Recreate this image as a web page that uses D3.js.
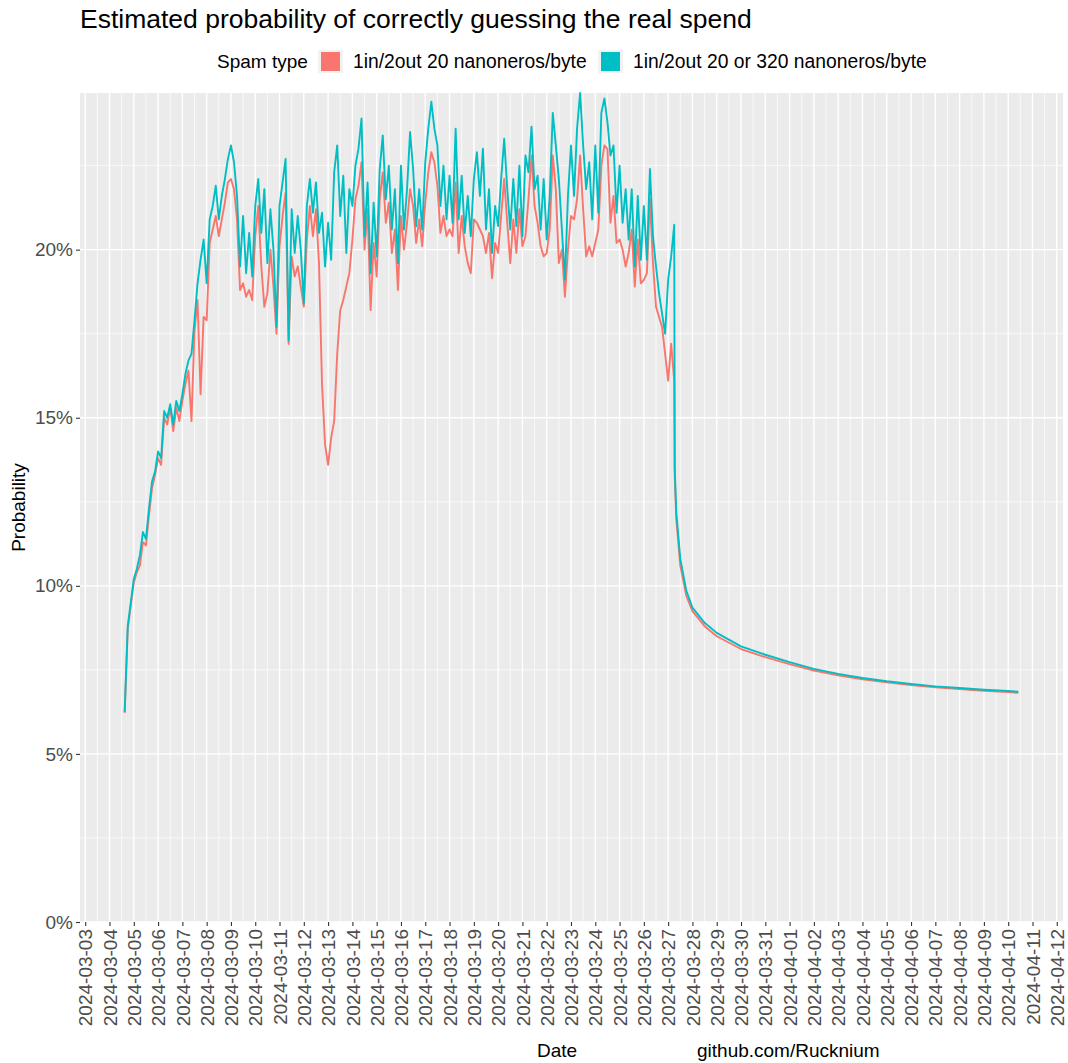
<!DOCTYPE html>
<html>
<head>
<meta charset="utf-8">
<script src="https://cdn.jsdelivr.net/npm/d3@7"></script>
<style>
  body { margin: 0; background: #ffffff; }
  text { font-family: "Liberation Sans", Arial, sans-serif; }
</style>
</head>
<body>
<svg id="chart" width="1068" height="1063"></svg>
<script>
// noisy part: one value every 3 hours from 2024-03-04 15:00 (UTC)
var startTime = "2024-03-04 15:00";
var stepHours = 3;

var tealNoisy = [
  6.25, 8.8, 9.5, 10.2, 10.5, 10.9, 11.6, 11.4,
  12.3, 13.1, 13.4, 14.0, 13.8, 15.2, 15.0, 15.4,
  14.8, 15.5, 15.2, 15.7, 16.3, 16.7, 16.9, 17.9,
  19.0, 19.7, 20.3, 19.0, 20.9, 21.3, 21.9, 20.9,
  21.6, 22.1, 22.7, 23.1, 22.6, 21.6, 19.5, 21.0,
  19.3, 20.5, 19.2, 21.3, 22.1, 20.5, 21.8, 19.6,
  21.2, 20.0, 17.7, 21.3, 22.0, 22.7, 17.3, 21.2,
  19.9, 21.0, 20.0, 18.4, 21.3, 22.1, 21.1, 22.0,
  20.5, 21.1, 19.5, 20.8, 19.7, 22.3, 23.1, 21.0,
  22.2, 19.9, 21.8, 21.3, 22.5, 23.0, 23.9, 20.4,
  22.0, 19.3, 21.4, 19.8, 22.4, 23.4, 21.5, 22.5,
  20.6, 21.8, 19.6, 22.5, 20.6, 21.8, 23.5, 22.4,
  20.7, 21.8, 20.6, 22.6, 23.6, 24.4, 23.6, 23.1,
  21.3, 22.5, 20.9, 22.2, 20.8, 23.6, 20.9, 22.2,
  20.5, 21.6, 20.4, 22.1, 22.9, 21.6, 23.0, 20.6,
  21.8, 19.9, 21.3, 20.7, 22.1, 23.3, 21.8, 20.6,
  22.1, 20.7, 22.5, 20.4, 22.8, 22.3, 23.66, 21.8,
  22.2, 20.6, 22.1, 20.3, 21.6, 24.07, 23.1, 22.1,
  20.6, 19.1, 21.6, 23.1, 21.6, 23.6, 24.66, 23.1,
  21.8, 22.6, 20.9, 23.1, 21.1, 24.07, 24.5, 23.8,
  22.8, 23.1, 21.1, 22.5, 20.8, 21.8, 20.3, 21.8,
  19.5, 21.6, 19.7, 21.3, 19.7, 22.4, 20.4, 19.5,
  18.7, 18.1, 17.5, 19.1, 19.8, 20.74
];

var redNoisy = [
  6.22, 8.7, 9.4, 10.1, 10.4, 10.6, 11.3, 11.2,
  12.1, 12.9, 13.3, 13.8, 13.6, 15.0, 14.8, 15.3,
  14.6, 15.3, 14.9, 15.5, 16.0, 16.4, 14.9, 17.6,
  18.5, 15.7, 18.0, 17.9, 20.2, 20.6, 21.0, 20.4,
  20.9, 21.4, 22.0, 22.1, 21.8, 20.9, 18.8, 19.0,
  18.6, 18.8, 18.5, 20.4, 21.3, 19.5, 18.3, 18.7,
  20.0, 18.9, 17.5, 20.1, 21.0, 21.7, 17.2, 19.8,
  19.2, 19.5, 18.9, 18.3, 20.3, 21.3, 20.4, 21.2,
  19.6, 16.0, 14.2, 13.6, 14.4, 14.9, 16.9, 18.2,
  18.5, 18.9, 19.3, 20.3, 21.5, 21.9, 22.6, 20.0,
  21.2, 18.2, 20.2, 19.2, 21.5, 22.3, 20.8, 21.4,
  19.9, 20.6, 18.8, 21.0, 20.0, 20.8, 21.8, 21.3,
  20.2, 20.9, 20.1, 21.4, 22.3, 22.9, 22.6, 21.9,
  20.5, 21.0, 20.4, 20.6, 20.4, 22.0, 19.9, 21.0,
  20.1, 19.6, 19.3, 20.9, 20.8, 20.6, 20.4, 19.9,
  20.5, 19.15, 20.2, 19.9, 21.0, 22.1, 20.8, 19.6,
  20.9, 19.9, 21.2, 20.1, 20.4, 21.5, 22.8, 21.3,
  20.8, 20.1, 19.8, 19.9, 20.6, 22.8, 21.8, 19.6,
  20.0, 18.6, 20.0, 21.0, 20.9, 21.5, 22.8, 21.2,
  19.8, 20.1, 19.8, 20.2, 20.6, 22.5, 23.1, 23.0,
  20.8, 21.6, 20.2, 20.3, 20.0, 19.5, 19.9, 20.6,
  18.9, 20.3, 19.0, 19.1, 19.3, 21.5, 19.6, 18.3,
  18.0, 17.7, 16.9, 16.1, 17.2, 16.1
];

// smooth part after the drop
var tailTimes = [
  "2024-03-27 06:30", "2024-03-27 08:00", "2024-03-27 12:00", "2024-03-27 18:00",
  "2024-03-28 00:00", "2024-03-28 12:00", "2024-03-29 00:00", "2024-03-30 00:00",
  "2024-03-31 00:00", "2024-04-01 00:00", "2024-04-02 00:00", "2024-04-03 00:00",
  "2024-04-04 00:00", "2024-04-05 00:00", "2024-04-06 00:00", "2024-04-07 00:00",
  "2024-04-08 00:00", "2024-04-09 00:00", "2024-04-10 00:00", "2024-04-10 10:00"
];
var tailTeal = [
  13.5, 12.2, 10.8, 9.85, 9.35, 8.9, 8.6, 8.2, 7.95, 7.73,
  7.53, 7.38, 7.26, 7.16, 7.08, 7.01, 6.96, 6.91, 6.87, 6.85
];
var tailRed = [
  13.3, 12.0, 10.6, 9.7, 9.25, 8.8, 8.5, 8.12, 7.88, 7.67,
  7.48, 7.34, 7.22, 7.13, 7.05, 6.98, 6.93, 6.88, 6.84, 6.82
];

var seriesNames = ["1in/2out 20 nanoneros/byte", "1in/2out 20 or 320 nanoneros/byte"];
var seriesColors = ["#F8766D", "#00BFC4"];
var yTicks = [0, 5, 10, 15, 20];
var yMinorTicks = [2.5, 7.5, 12.5, 17.5, 22.5];

var parseTime = d3.utcParse("%Y-%m-%d %H:%M");

function buildSeries(noisy, tail) {
  var start = parseTime(startTime);
  var pts = noisy.map(function (v, i) {
    return { date: d3.utcHour.offset(start, i * stepHours), value: v };
  });
  tail.forEach(function (v, i) {
    pts.push({ date: parseTime(tailTimes[i]), value: v });
  });
  return pts;
}

var series = [buildSeries(redNoisy, tailRed), buildSeries(tealNoisy, tailTeal)];

var panel = { left: 80, right: 1063, top: 93, bottom: 922 };
var svg = d3.select("#chart");

// ggplot-like 5% expansion on the time axis, none on y
var allDates = series[0].concat(series[1]).map(function (d) { return d.date; });
var t0 = d3.min(allDates), t1 = d3.max(allDates);
var pad = (t1 - t0) * 0.05;
var x = d3.scaleUtc()
  .domain([new Date(+t0 - pad), new Date(+t1 + pad)])
  .range([panel.left, panel.right]);

var yMax = d3.max(series, function (s) { return d3.max(s, function (d) { return d.value; }); });
var y = d3.scaleLinear().domain([0, yMax]).range([panel.bottom, panel.top]);

var days = d3.utcDay.range(x.domain()[0], x.domain()[1]);
var halfDays = days.map(function (d) { return d3.utcHour.offset(d, 12); })
  .filter(function (d) { return d <= x.domain()[1]; });

// panel
svg.append("rect")
  .attr("x", panel.left).attr("y", panel.top)
  .attr("width", panel.right - panel.left)
  .attr("height", panel.bottom - panel.top)
  .attr("fill", "#EBEBEB");

var grid = svg.append("g");
grid.selectAll(".vminor").data(halfDays).enter().append("line")
  .attr("x1", function (d) { return x(d); }).attr("x2", function (d) { return x(d); })
  .attr("y1", panel.top).attr("y2", panel.bottom)
  .attr("stroke", "#ffffff").attr("stroke-width", 0.7);
grid.selectAll(".hminor").data(yMinorTicks).enter().append("line")
  .attr("x1", panel.left).attr("x2", panel.right)
  .attr("y1", function (d) { return y(d); }).attr("y2", function (d) { return y(d); })
  .attr("stroke", "#ffffff").attr("stroke-width", 0.7);
grid.selectAll(".vmajor").data(days).enter().append("line")
  .attr("x1", function (d) { return x(d); }).attr("x2", function (d) { return x(d); })
  .attr("y1", panel.top).attr("y2", panel.bottom)
  .attr("stroke", "#ffffff").attr("stroke-width", 1.4);
grid.selectAll(".hmajor").data(yTicks).enter().append("line")
  .attr("x1", panel.left).attr("x2", panel.right)
  .attr("y1", function (d) { return y(d); }).attr("y2", function (d) { return y(d); })
  .attr("stroke", "#ffffff").attr("stroke-width", 1.4);

// lines
var line = d3.line()
  .x(function (d) { return x(d.date); })
  .y(function (d) { return y(d.value); });

series.forEach(function (s, i) {
  svg.append("path")
    .datum(s)
    .attr("d", line)
    .attr("fill", "none")
    .attr("stroke", seriesColors[i])
    .attr("stroke-width", 1.9)
    .attr("stroke-linejoin", "round");
});

// axes
var yAxis = svg.append("g")
  .attr("transform", "translate(" + panel.left + ",0)")
  .call(d3.axisLeft(y).tickValues(yTicks).tickSize(4).tickPadding(3)
    .tickFormat(function (d) { return d + "%"; }));
var xAxis = svg.append("g")
  .attr("transform", "translate(0," + panel.bottom + ")")
  .call(d3.axisBottom(x).tickValues(days).tickSize(4)
    .tickFormat(d3.utcFormat("%Y-%m-%d")));

[yAxis, xAxis].forEach(function (a) {
  a.select(".domain").remove();
  a.selectAll(".tick line").attr("stroke", "#333333").attr("stroke-width", 1.1);
  a.selectAll(".tick text")
    .attr("fill", "#4D4D4D")
    .attr("font-size", 19)
    .attr("font-family", "Liberation Sans, Arial, sans-serif");
});

xAxis.selectAll(".tick text")
  .attr("text-anchor", "end")
  .attr("dy", "0.35em")
  .attr("y", 0)
  .attr("x", -7)
  .attr("transform", "rotate(-90)");

// titles
svg.append("text")
  .attr("x", 80).attr("y", 28)
  .attr("font-size", 26.5)
  .attr("fill", "#000000")
  .text("Estimated probability of correctly guessing the real spend");

svg.append("text")
  .attr("transform", "translate(25," + ((panel.top + panel.bottom) / 2) + ") rotate(-90)")
  .attr("text-anchor", "middle")
  .attr("font-size", 19)
  .text("Probability");

svg.append("text")
  .attr("x", 537).attr("y", 1057)
  .attr("font-size", 19)
  .text("Date");
svg.append("text")
  .attr("x", 697).attr("y", 1057)
  .attr("font-size", 19)
  .text("github.com/Rucknium");

// legend
var legend = svg.append("g");
legend.append("text")
  .attr("x", 217).attr("y", 68)
  .attr("font-size", 19)
  .text("Spam type");

var keyX = [318, 598];
seriesNames.forEach(function (name, i) {
  var k = legend.append("g").attr("transform", "translate(" + keyX[i] + ",50)");
  k.append("rect").attr("width", 25).attr("height", 23).attr("fill", "#F2F2F2");
  k.append("rect").attr("x", 3).attr("y", 2).attr("width", 19).attr("height", 19)
    .attr("fill", seriesColors[i]);
  k.append("text")
    .attr("x", 35).attr("y", 18)
    .attr("font-size", 19.3)
    .text(name);
});
</script>
</body>
</html>
